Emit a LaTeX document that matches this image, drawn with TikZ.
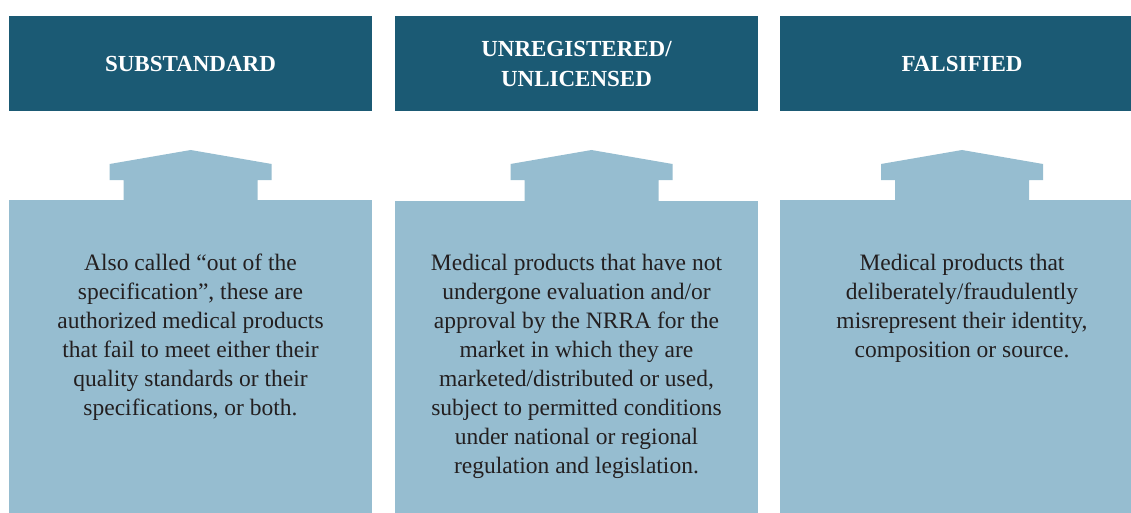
\documentclass[tikz,border=0pt]{standalone}
\usepackage{fontspec}
\setmainfont{Liberation Serif}
\definecolor{darkteal}{HTML}{1B5A74}
\definecolor{lightblue}{HTML}{96BDD0}
\definecolor{bodytext}{HTML}{231F20}
\begin{document}
\begin{tikzpicture}[x=1pt,y=-1pt]
\tikzset{
  headbox/.style={fill=darkteal, draw=none},
  headtext/.style={text=white, font=\bfseries\fontsize{23}{30}\selectfont, align=center, inner sep=0pt},
  bodybox/.style={fill=lightblue, draw=none},
  bodytxt/.style={text=bodytext, font=\fontsize{23.5}{29}\selectfont, align=center, inner sep=0pt, anchor=north},
}
\useasboundingbox (0,0) rectangle (1131,513);
% header boxes
\path[headbox] (9,16) rectangle (372,110.7);
\path[headbox] (395,16) rectangle (757.7,110.7);
\path[headbox] (780,16) rectangle (1131,110.7);
\node[headtext] (h1) at (190.5,64) {SUBSTANDARD};
\node[headtext] (h2) at (576.5,64) {UNREGISTERED/\\UNLICENSED};
\node[headtext] (h3) at (962,64) {FALSIFIED};
% arrows (roof shapes)
\newcommand{\roofshape}[1]{%
  \path[bodybox] (#1,150) -- ++(81,14) -- ++(0,16) -- ++(-14,0) -- ++(0,21)
    -- ++(-134,0) -- ++(0,-21) -- ++(-14,0) -- ++(0,-16) -- cycle;}
\roofshape{190.7}
\roofshape{591.5}
\roofshape{962}
% body boxes
\path[bodybox] (9,200) rectangle (372,513);
\path[bodybox] (395,201) rectangle (757.7,513);
\path[bodybox] (780,200.3) rectangle (1131,513);
\node[bodytxt] (t1) at (190.5,254) {Also called “out of the\\specification”, these are\\authorized medical products\\that fail to meet either their\\quality standards or their\\specifications, or both.};
\node[bodytxt] (t2) at (576.5,254) {Medical products that have not\\undergone evaluation and/or\\approval by the NRRA for the\\market in which they are\\marketed/distributed or used,\\subject to permitted conditions\\under national or regional\\regulation and legislation.};
\node[bodytxt] (t3) at (962,254) {Medical products that\\deliberately/fraudulently\\misrepresent their identity,\\composition or source.};
\end{tikzpicture}
\end{document}
